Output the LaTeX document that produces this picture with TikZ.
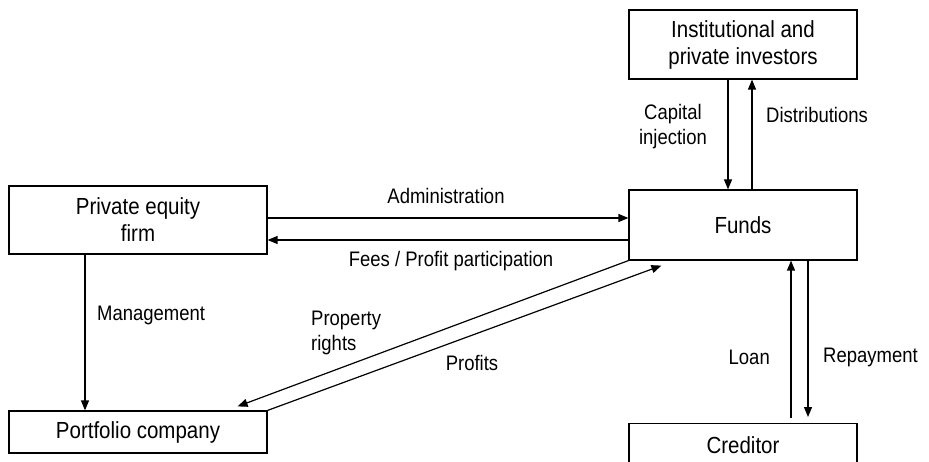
\documentclass[tikz,border=0pt]{standalone}
\usepackage{fontspec}
\setmainfont{Liberation Sans}[FakeStretch=0.88]
\usetikzlibrary{arrows.meta,calc}
\begin{document}
\begin{tikzpicture}[x=1pt,y=-1pt,
  every node/.style={font=\fontsize{21}{25}\selectfont, inner sep=0pt},
  box/.style={draw, line width=1.2pt, align=center, font=\fontsize{23.3}{27}\selectfont},
  arr/.style={line width=1.2pt, -{Triangle[length=10pt,width=8pt]}},
  lbl/.style={align=center}]
\useasboundingbox (0,0) rectangle (929,462);
\clip (0,0) rectangle (929,462);
\node[box, minimum width=228, minimum height=69] (inv) at (743,44.5) {Institutional and\\private investors};
\node[box, minimum width=228, minimum height=70] (funds) at (743,225) {Funds};
\node[box, minimum width=228, minimum height=44, anchor=north] (cred) at (743,423) {Creditor};
\node[box, minimum width=258, minimum height=68] (pef) at (138,220) {Private equity\\firm};
\node[box, minimum width=258, minimum height=42] (port) at (138,432) {Portfolio company};
% investors <-> funds
\draw[arr] ($(inv.south)+(-15,0)$) -- ($(funds.north)+(-15,0)$);
\draw[arr] ($(funds.north)+(9,0)$) -- ($(inv.south)+(9,0)$);
% funds <-> creditor
\draw[arr] ($(cred.north)+(48,-5)$) -- ($(funds.south)+(48,0)$);
\draw[arr] ($(funds.south)+(65,0)$) -- ($(cred.north)+(65,-6)$);
% pef <-> funds
\draw[arr] ($(pef.east)+(0,-2)$) -- ($(funds.west)+(0,-7)$);
\draw[arr] ($(funds.west)+(0,15)$) -- ($(pef.east)+(0,20)$);
% pef -> portfolio
\draw[arr] ($(pef.south)+(-53,0)$) -- ($(port.north)+(-53,0)$);
% funds <-> portfolio
\draw[arr] (funds.south west) -- ($(port.north east)+(-30,-4)$);
\draw[arr] (port.north east) -- ($(funds.south west)+(33,5)$);
% labels
\node[lbl] (lcap) at (673,127) {Capital\\injection};
\node[anchor=west] (ldist) at (766,115) {Distributions};
\node[anchor=east] (lloan) at (770,357) {Loan};
\node[anchor=west] (lrep) at (823,357) {Repayment};
\node (ladm) at (446,196) {Administration};
\node (lfees) at (451,261) {Fees / Profit participation};
\node[anchor=west] (lman) at (97,315) {Management};
\node[anchor=west, align=left] (lprop) at (311,333) {Property\\rights};
\node (lprof) at (472,363) {Profits};
\end{tikzpicture}
\end{document}
